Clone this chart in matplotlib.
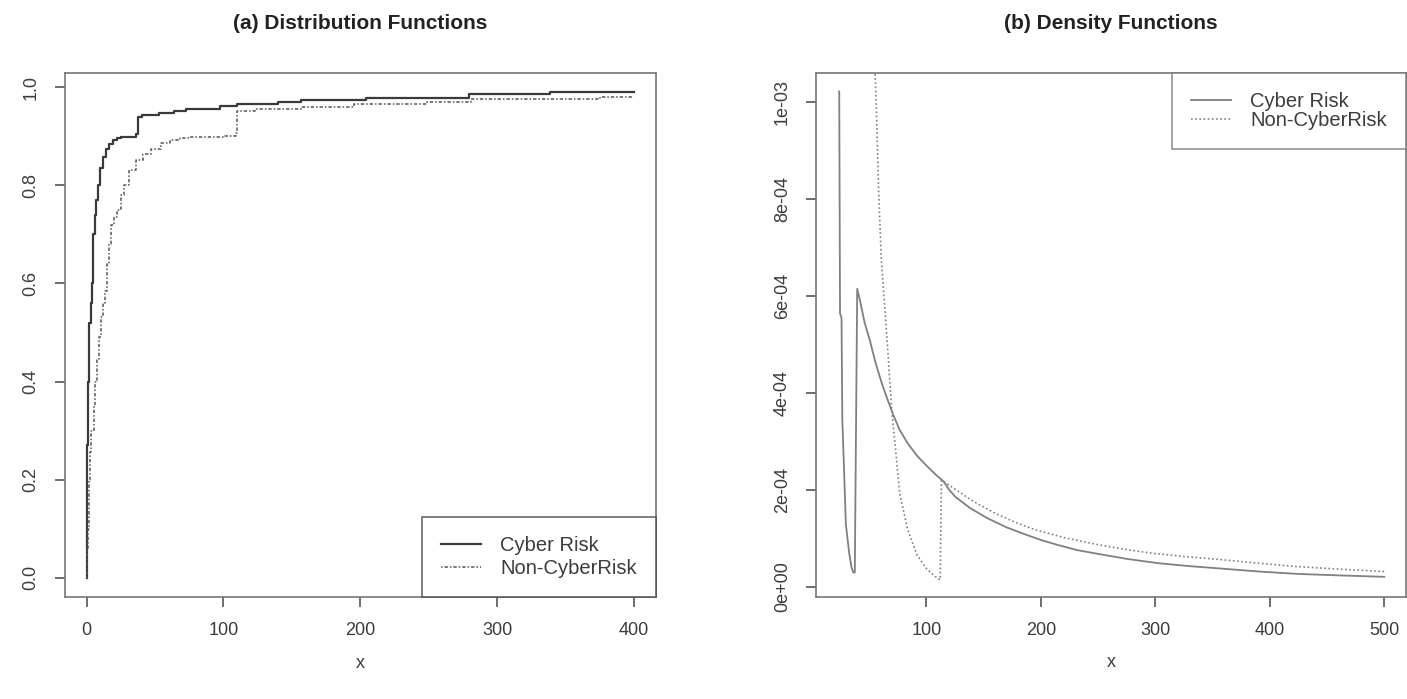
import numpy as np
import matplotlib.pyplot as plt

plt.rcParams['font.family'] = ['Liberation Sans', 'DejaVu Sans']

cdf_cyber_x = [0, 0.5, 1, 2, 3, 4, 5, 6, 7, 8, 10, 12, 14, 16, 19, 22, 25,
               31.7, 36.0, 37.5, 40.5, 52.8, 64.0, 72.4, 97.6, 110.2, 139.6,
               156.4, 204.0, 279.6, 338.4, 400.0]
cdf_cyber_y = [0.0, 0.27, 0.40, 0.52, 0.56, 0.60, 0.70, 0.74, 0.77, 0.80,
               0.835, 0.858, 0.873, 0.883, 0.892, 0.897, 0.899, 0.899, 0.905,
               0.938, 0.943, 0.948, 0.952, 0.956, 0.9617, 0.9663, 0.970,
               0.974, 0.978, 0.985, 0.989, 0.989]

cdf_non_x = [0, 0.5, 1, 1.5, 2.4, 3.5, 5.2, 6.5, 7.5, 9, 10.8, 12, 13.1, 15,
             16.5, 17.8, 20, 22, 25, 27.6, 31, 36, 41, 47.2, 54, 61.2, 68,
             75.2, 92, 100, 108.8, 110.2, 122.8, 156.4, 195.6, 248.8, 281.0,
             375.0, 400.0]
cdf_non_y = [0.0, 0.06, 0.10, 0.20, 0.257, 0.30, 0.351, 0.40, 0.445, 0.49,
             0.531, 0.56, 0.585, 0.64, 0.68, 0.718, 0.735, 0.749, 0.78, 0.80,
             0.83, 0.851, 0.864, 0.874, 0.885, 0.892, 0.897, 0.899, 0.899,
             0.90, 0.9055, 0.9506, 0.956, 0.960, 0.9663, 0.970, 0.9757,
             0.980, 0.980]

# (b) density functions (values in units of 1e-4)
pdf_cyber_x = [23.8, 24.5, 25.8, 26.5, 27.3, 29.6, 32.5, 34.5, 36.0, 37.4,
               39.5, 41.8, 46, 50.5, 55.7, 61, 66.1, 71, 76.6, 84, 92, 101,
               108, 114.9, 120, 125.3, 138, 153.2, 170, 188, 200, 215.8, 232,
               250.7, 275, 302.9, 330, 355, 390, 424.7, 460, 500]
pdf_cyber_y = [10.22, 5.64, 5.55, 3.44, 2.91, 1.29, 0.70, 0.41, 0.30, 0.30,
               6.15, 5.92, 5.45, 5.09, 4.61, 4.2, 3.86, 3.55, 3.24, 2.95, 2.7,
               2.48, 2.32, 2.18, 2.0, 1.86, 1.63, 1.42, 1.23, 1.07, 0.97,
               0.86, 0.76, 0.68, 0.58, 0.49, 0.43, 0.385, 0.32, 0.27, 0.24,
               0.21]

pdf_non_x = [54.0, 54.8, 56.3, 58.3, 60.6, 64.4, 66.4, 69.6, 73.1, 76.6, 83.6,
             92, 101.0, 109.7, 112.0, 113.1, 121.8, 140, 160.0, 178, 195.0,
             220, 250.7, 275, 299.4, 325, 355.0, 390, 424.7, 460, 500.0]
pdf_non_y = [13.0, 10.8, 9.84, 8.12, 6.74, 5.5, 4.82, 3.65, 2.82, 1.93, 1.18,
             0.65, 0.35, 0.18, 0.15, 2.2, 2.07, 1.78, 1.52, 1.33, 1.18, 1.02,
             0.87, 0.77, 0.69, 0.63, 0.57, 0.49, 0.42, 0.37, 0.32]

labels = ['Cyber Risk', 'Non-CyberRisk']
text_col = '#3c3c3c'
frame_col = '#777777'

W, H = 1407, 699
fig = plt.figure(figsize=(W / 100, H / 100), dpi=100)


def px_axes(left, top, right, bottom):
    return fig.add_axes([left / W, 1 - bottom / H, (right - left) / W, (bottom - top) / H])


def style(ax):
    for s in ax.spines.values():
        s.set_color(frame_col)
        s.set_linewidth(1.2)
    ax.tick_params(length=7, width=1.2, color='#555555', pad=11,
                   labelsize=13, labelcolor=text_col)
    ax.tick_params(axis='y', labelrotation=90)
    for t in ax.get_yticklabels():
        t.set_va('center')
    ax.set_xlabel('x', fontsize=13, color=text_col, va='center')
    ax.xaxis.set_label_coords(0.5, -66 / 525)


ax1 = px_axes(64.7, 72.5, 656, 597.3)
ax1.plot(cdf_cyber_x, cdf_cyber_y, drawstyle='steps-post', color='#3a3a3a',
         lw=1.6, label=labels[0])
ax1.plot(cdf_non_x, cdf_non_y, drawstyle='steps-post', color='#555555',
         lw=1.1, linestyle=(0, (1, 1.3, 2.2, 1.3)), label=labels[1])
ax1.set_xlim(-16, 416)
ax1.set_ylim(-0.0396, 1.0296)
ax1.set_xticks([0, 100, 200, 300, 400])
ax1.set_yticks([0, 0.2, 0.4, 0.6, 0.8, 1.0])
ax1.set_yticklabels(['0.0', '0.2', '0.4', '0.6', '0.8', '1.0'])
style(ax1)
ax1.set_title('(a) Distribution Functions', fontsize=15, fontweight='bold',
              color='#222222', pad=31)
leg1 = ax1.legend(loc='lower right', bbox_to_anchor=(1, 0), borderaxespad=0,
                  fancybox=False, fontsize=14.5, handlelength=2.0,
                  handletextpad=0.95, borderpad=0.95, labelspacing=0.2,
                  labelcolor=text_col)
leg1.get_frame().set_edgecolor('#444444')
leg1.get_frame().set_linewidth(1.2)

ax2 = px_axes(816, 72.5, 1406, 597)
ax2.plot(pdf_cyber_x, np.array(pdf_cyber_y) * 1e-4, color='#808080', lw=1.3,
         label=labels[0])
ax2.plot(pdf_non_x, np.array(pdf_non_y) * 1e-4, color='#808080', lw=1.2,
         linestyle=(0, (1, 1.5)), label=labels[1])
ax2.set_xlim(3.5, 519)
ax2.set_ylim(-2.06e-5, 1.061e-3)
ax2.set_xticks([100, 200, 300, 400, 500])
ax2.set_yticks([0, 2e-4, 4e-4, 6e-4, 8e-4, 1e-3])
ax2.set_yticklabels(['0e+00', '2e-04', '4e-04', '6e-04', '8e-04', '1e-03'])
style(ax2)
ax2.set_title('(b) Density Functions', fontsize=15, fontweight='bold',
              color='#222222', pad=31)
leg2 = ax2.legend(loc='upper right', bbox_to_anchor=(1, 1), borderaxespad=0,
                  fancybox=False, fontsize=14.5, handlelength=2.0,
                  handletextpad=0.95, borderpad=0.95, labelspacing=0.02,
                  labelcolor=text_col)
leg2.get_frame().set_edgecolor(frame_col)
leg2.get_frame().set_linewidth(1.2)

fig.savefig('out.png', dpi=100)
